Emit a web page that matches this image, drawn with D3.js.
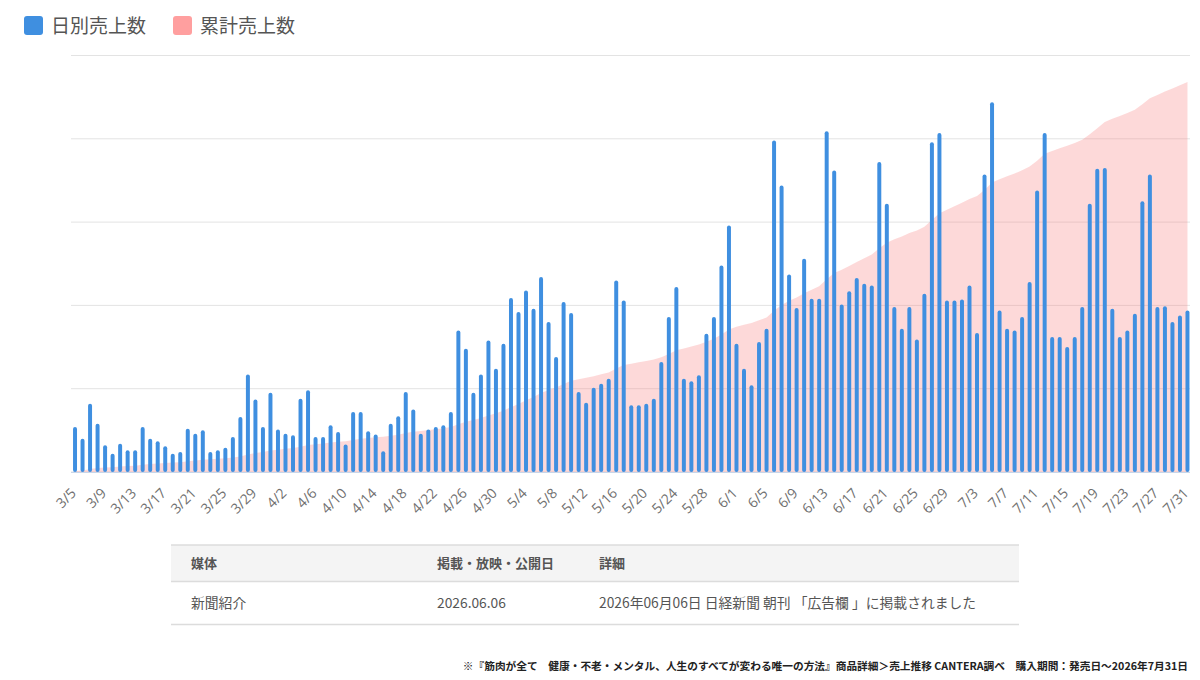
<!DOCTYPE html>
<html>
<head>
<meta charset="utf-8">
<script src="https://cdn.jsdelivr.net/npm/d3@7"></script>
<style>
  body { margin: 0; background: #fff; }
  svg { display: block; }
</style>
</head>
<body>
<script>
// 3/5 .. 7/31 daily sales (grid step = 100)
const startDate = new Date(2026, 2, 5);
const endDate = new Date(2026, 6, 31);
const daily = [
  54, 40, 82, 58, 32, 22, 34, 26, 26, 54, 40, 37, 31, 22, 24, 52, 46, 50, 24, 26,
  29, 42, 66, 117, 87, 54, 95, 51, 46, 44, 88, 98, 42, 42, 56, 48, 33, 72, 72, 49,
  45, 25, 58, 67, 96, 75, 46, 51, 54, 56, 72, 170, 148, 95, 117, 158, 124, 154, 209, 192,
  218, 196, 234, 180, 138, 204, 191, 96, 83, 101, 106, 112, 230, 206, 80, 80, 82, 88, 132, 186,
  222, 112, 109, 116, 166, 186, 248, 296, 154, 124, 104, 156, 172, 398, 344, 237, 197, 256, 208, 208,
  409, 362, 201, 217, 233, 226, 224, 372, 322, 198, 172, 198, 159, 214, 396, 407, 206, 206, 207, 224,
  167, 357, 444, 194, 172, 170, 186, 228, 338, 407, 162, 162, 150, 162, 198, 322, 364, 365, 196, 162,
  170, 190, 325, 357, 198, 199, 180, 188, 194
];
const yTicks = [0, 100, 200, 300, 400, 500];
const legendLabels = ['日別売上数', '累計売上数'];
const legendColors = ['#3f8fe0', '#ff9f9f'];
const tableHeaders = ['媒体', '掲載・放映・公開日', '詳細'];
const tableRow = ['新聞紹介', '2026.06.06', '2026年06月06日 日経新聞 朝刊 「広告欄 」に掲載されました'];
const footnote = '※『筋肉が全て　健康・不老・メンタル、人生のすべてが変わる唯一の方法』商品詳細＞売上推移 CANTERA調べ　購入期間：発売日～2026年7月31日';

const dates = d3.timeDay.range(startDate, d3.timeDay.offset(endDate, 1));
const fmt = d3.timeFormat('%-m/%-d');
const labels = dates.map(fmt);
const cumulative = Array.from(d3.cumsum(daily));

const width = 1200, height = 680;
const svg = d3.select('body').append('svg')
  .attr('width', width)
  .attr('height', height);

const plotLeft = 71, plotRight = 1190, plotTop = 55.5, plotBottom = 472;

const x = d3.scaleBand()
  .domain(labels)
  .range([69.5, 1193])
  .padding(0.47);

const y = d3.scaleLinear().domain([0, 500]).range([plotBottom, plotTop]);
const y2 = d3.scaleLinear().domain([0, d3.max(cumulative) * 1.068]).range([plotBottom, plotTop]);

// grid
svg.append('g')
  .selectAll('line')
  .data(yTicks)
  .join('line')
  .attr('x1', plotLeft).attr('x2', plotRight)
  .attr('y1', d => y(d)).attr('y2', d => y(d))
  .attr('stroke', '#e3e3e3')
  .attr('stroke-width', 1);

// cumulative area
const cx = d => x(d) + x.bandwidth() / 2;
const area = d3.area()
  .x((d, i) => cx(labels[i]))
  .y0(plotBottom)
  .y1(d => y2(d));
svg.append('path')
  .datum(cumulative)
  .attr('d', area)
  .attr('fill', 'rgba(250,130,130,0.3)');

// daily bars
svg.append('g')
  .selectAll('rect')
  .data(daily)
  .join('rect')
  .attr('x', (d, i) => x(labels[i]))
  .attr('width', x.bandwidth())
  .attr('y', d => y(d))
  .attr('height', d => plotBottom - y(d))
  .attr('rx', 2)
  .attr('fill', '#3f8fe0');

// baseline
svg.append('line')
  .attr('x1', plotLeft).attr('x2', plotRight)
  .attr('y1', plotBottom + 0.5).attr('y2', plotBottom + 0.5)
  .attr('stroke', '#c8d6ea');

// x labels, every 4th day
const tickLabels = labels.filter((d, i) => i % 4 === 0);
svg.append('g')
  .selectAll('text')
  .data(tickLabels)
  .join('text')
  .attr('transform', d => `translate(${cx(d) + 2},${494}) rotate(-45)`)
  .attr('text-anchor', 'end')
  .attr('font-family', '"Open Sans", "Noto Sans", sans-serif')
  .attr('font-size', 14)
  .attr('fill', '#707070')
  .text(d => d);

// legend
const lg = svg.append('g')
  .selectAll('g')
  .data(legendLabels)
  .join('g')
  .attr('transform', (d, i) => `translate(${24 + i * 149},16)`);
lg.append('rect')
  .attr('width', 19).attr('height', 19).attr('rx', 3)
  .attr('fill', (d, i) => legendColors[i]);
lg.append('text')
  .attr('x', 27).attr('y', 16.5)
  .attr('font-family', '"Noto Sans CJK JP", sans-serif')
  .attr('font-size', 19)
  .attr('fill', '#555')
  .text(d => d);

// table
const tx = 171, tw = 848, colX = [191, 437, 599];
const tbl = svg.append('g');
tbl.append('rect')
  .attr('x', tx).attr('y', 545).attr('width', tw).attr('height', 37)
  .attr('fill', '#f4f4f4');
tbl.selectAll('line')
  .data([545, 581.5, 624.5])
  .join('line')
  .attr('x1', tx).attr('x2', tx + tw)
  .attr('y1', d => d).attr('y2', d => d)
  .attr('stroke', '#dcdcdc').attr('stroke-width', 1.5);
tbl.selectAll('text.h')
  .data(tableHeaders)
  .join('text')
  .attr('class', 'h')
  .attr('x', (d, i) => colX[i]).attr('y', 568)
  .attr('font-family', '"Noto Sans CJK JP", sans-serif')
  .attr('font-size', 13).attr('font-weight', 'bold')
  .attr('fill', '#555')
  .text(d => d);
tbl.selectAll('text.r')
  .data(tableRow)
  .join('text')
  .attr('class', 'r')
  .attr('x', (d, i) => colX[i]).attr('y', 608)
  .attr('font-family', '"Noto Sans CJK JP", sans-serif')
  .attr('font-size', 13.8)
  .attr('fill', '#555')
  .text(d => d);

// footnote
svg.append('text')
  .attr('x', 1188).attr('y', 670)
  .attr('text-anchor', 'end')
  .attr('font-family', '"Noto Sans CJK JP", sans-serif')
  .attr('font-size', 10.7).attr('font-weight', 'bold')
  .attr('fill', '#222')
  .text(footnote);
</script>
</body>
</html>
